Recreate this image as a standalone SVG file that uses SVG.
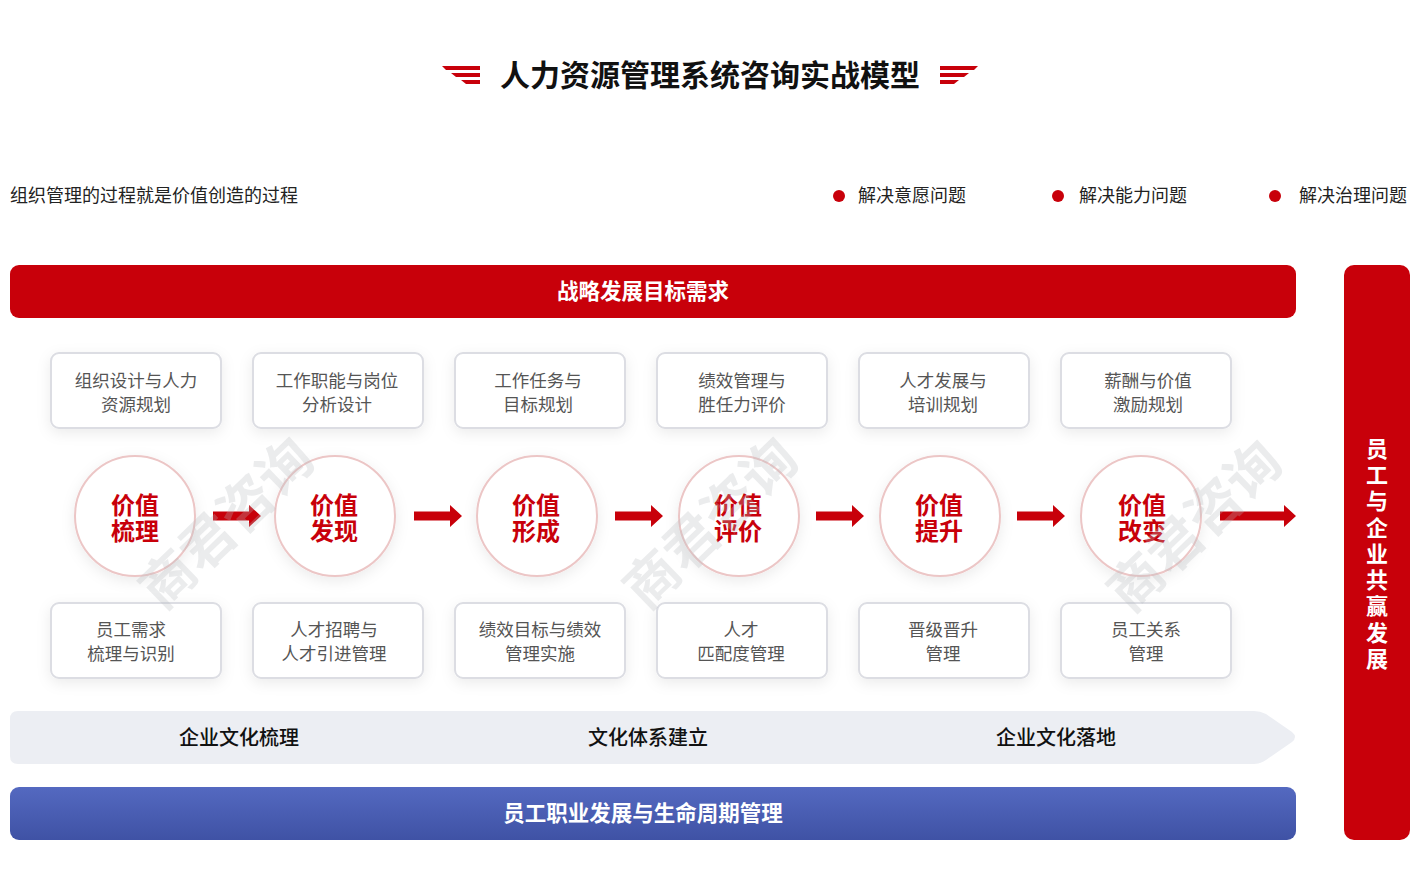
<svg xmlns="http://www.w3.org/2000/svg" width="1420" height="894" viewBox="0 0 1420 894">
<defs>
<style>
text{font-family:"Noto Sans CJK SC","Noto Sans",sans-serif;}
.title{font-size:30px;font-weight:700;fill:#111;}
.sub{font-size:18px;fill:#222;}
.bar{font-size:21.5px;font-weight:700;fill:#fff;}
.box rect{fill:#fff;stroke:#dcdde3;stroke-width:2;}
.box text{font-size:17.5px;fill:#555;text-anchor:middle;}
.circ circle{fill:#fff;stroke:#ecc6c6;stroke-width:2;}
.circ text{font-size:24px;font-weight:700;fill:#c8000a;text-anchor:middle;}
.cult{font-size:20px;font-weight:500;fill:#111;text-anchor:middle;}
.wm{font-size:54px;font-weight:700;fill:#b8b9c0;fill-opacity:0.28;text-anchor:middle;}
.arr{fill:#c8000a;}
</style>
<filter id="sh" x="-30%" y="-30%" width="160%" height="160%">
<feDropShadow dx="0" dy="4" stdDeviation="7" flood-color="#000" flood-opacity="0.08"/>
</filter>
<linearGradient id="blue" x1="0" y1="0" x2="0" y2="1">
<stop offset="0" stop-color="#5469c0"/>
<stop offset="1" stop-color="#3f52a5"/>
</linearGradient>
<path id="arrowR" d="M0,-4.5 H36 V-11 L48,0 L36,11 V4.5 H0 Z"/>
</defs>
<rect width="1420" height="894" fill="#fff"/>

<!-- title -->
<g id="title">
<path d="M442,66 H480 V70 H446 Z M451,73 H480 V77 H456 Z M461,80 H480 V84 H466 Z" fill="#c8000a"/>
<path d="M978,66 H940 V70 H974 Z M969,73 H940 V77 H964 Z M959,80 H940 V84 H954 Z" fill="#c8000a"/>
<text class="title" x="710" y="86" text-anchor="middle">人力资源管理系统咨询实战模型</text>
</g>

<text class="sub" x="10" y="202">组织管理的过程就是价值创造的过程</text>
<g id="legend">
<circle cx="839" cy="196" r="6" fill="#c8000a"/>
<text class="sub" x="858" y="202">解决意愿问题</text>
<circle cx="1058" cy="196" r="6" fill="#c8000a"/>
<text class="sub" x="1079" y="202">解决能力问题</text>
<circle cx="1275" cy="196" r="6" fill="#c8000a"/>
<text class="sub" x="1299" y="202">解决治理问题</text>
</g>

<g id="strategy">
<rect x="10" y="265" width="1286" height="53" rx="9" fill="#c8000a"/>
<text class="bar" x="643" y="299" text-anchor="middle">战略发展目标需求</text>
</g>

<g id="win">
<rect x="1344" y="265" width="66" height="575" rx="10" fill="#c8000a"/>
<text class="bar" text-anchor="middle" style="font-size:22px">
<tspan x="1377" y="457">员</tspan><tspan x="1377" y="483">工</tspan><tspan x="1377" y="509">与</tspan><tspan x="1377" y="536">企</tspan><tspan x="1377" y="562">业</tspan><tspan x="1377" y="588">共</tspan><tspan x="1377" y="614">赢</tspan><tspan x="1377" y="641">发</tspan><tspan x="1377" y="667">展</tspan>
</text>
</g>

<!-- top boxes -->
<g id="top1" class="box"><rect x="51" y="353" width="170" height="75" rx="8" filter="url(#sh)"/><text><tspan x="136" y="387">组织设计与人力</tspan><tspan x="136" y="411">资源规划</tspan></text></g>
<g id="top2" class="box"><rect x="253" y="353" width="170" height="75" rx="8" filter="url(#sh)"/><text><tspan x="337" y="387">工作职能与岗位</tspan><tspan x="337" y="411">分析设计</tspan></text></g>
<g id="top3" class="box"><rect x="455" y="353" width="170" height="75" rx="8" filter="url(#sh)"/><text><tspan x="538" y="387">工作任务与</tspan><tspan x="538" y="411">目标规划</tspan></text></g>
<g id="top4" class="box"><rect x="657" y="353" width="170" height="75" rx="8" filter="url(#sh)"/><text><tspan x="742" y="387">绩效管理与</tspan><tspan x="742" y="411">胜任力评价</tspan></text></g>
<g id="top5" class="box"><rect x="859" y="353" width="170" height="75" rx="8" filter="url(#sh)"/><text><tspan x="943" y="387">人才发展与</tspan><tspan x="943" y="411">培训规划</tspan></text></g>
<g id="top6" class="box"><rect x="1061" y="353" width="170" height="75" rx="8" filter="url(#sh)"/><text><tspan x="1148" y="387">薪酬与价值</tspan><tspan x="1148" y="411">激励规划</tspan></text></g>

<!-- circles -->
<g id="c1" class="circ"><circle cx="135" cy="516" r="60" filter="url(#sh)"/><text><tspan x="135" y="514">价值</tspan><tspan x="135" y="540">梳理</tspan></text></g>
<g id="c2" class="circ"><circle cx="335" cy="516" r="60" filter="url(#sh)"/><text><tspan x="334" y="514">价值</tspan><tspan x="334" y="540">发现</tspan></text></g>
<g id="c3" class="circ"><circle cx="537" cy="516" r="60" filter="url(#sh)"/><text><tspan x="536" y="514">价值</tspan><tspan x="536" y="540">形成</tspan></text></g>
<g id="c4" class="circ"><circle cx="739" cy="516" r="60" filter="url(#sh)"/><text><tspan x="738" y="514">价值</tspan><tspan x="738" y="540">评价</tspan></text></g>
<g id="c5" class="circ"><circle cx="940" cy="516" r="60" filter="url(#sh)"/><text><tspan x="939" y="514">价值</tspan><tspan x="939" y="540">提升</tspan></text></g>
<g id="c6" class="circ"><circle cx="1141" cy="516" r="60" filter="url(#sh)"/><text><tspan x="1142" y="514">价值</tspan><tspan x="1142" y="540">改变</tspan></text></g>

<!-- connectors -->
<g id="connectors" class="arr">
<use href="#arrowR" transform="translate(213,516)"/>
<use href="#arrowR" transform="translate(414,516)"/>
<use href="#arrowR" transform="translate(615,516)"/>
<use href="#arrowR" transform="translate(816,516)"/>
<use href="#arrowR" transform="translate(1017,516)"/>
<path d="M1220,511.5 H1284 V505 L1296,516 L1284,527 V520.5 H1220 Z"/>
</g>

<!-- bottom boxes -->
<g id="bot1" class="box"><rect x="51" y="603" width="170" height="75" rx="8" filter="url(#sh)"/><text><tspan x="131" y="636">员工需求</tspan><tspan x="131" y="660">梳理与识别</tspan></text></g>
<g id="bot2" class="box"><rect x="253" y="603" width="170" height="75" rx="8" filter="url(#sh)"/><text><tspan x="334" y="636">人才招聘与</tspan><tspan x="334" y="660">人才引进管理</tspan></text></g>
<g id="bot3" class="box"><rect x="455" y="603" width="170" height="75" rx="8" filter="url(#sh)"/><text><tspan x="540" y="636">绩效目标与绩效</tspan><tspan x="540" y="660">管理实施</tspan></text></g>
<g id="bot4" class="box"><rect x="657" y="603" width="170" height="75" rx="8" filter="url(#sh)"/><text><tspan x="741" y="636">人才</tspan><tspan x="741" y="660">匹配度管理</tspan></text></g>
<g id="bot5" class="box"><rect x="859" y="603" width="170" height="75" rx="8" filter="url(#sh)"/><text><tspan x="943" y="636">晋级晋升</tspan><tspan x="943" y="660">管理</tspan></text></g>
<g id="bot6" class="box"><rect x="1061" y="603" width="170" height="75" rx="8" filter="url(#sh)"/><text><tspan x="1146" y="636">员工关系</tspan><tspan x="1146" y="660">管理</tspan></text></g>

<!-- culture bar -->
<g id="culture">
<path d="M18,711 H1254 Q1260,711 1266,714 L1292,732 Q1298,737 1292,742 L1266,760 Q1260,764 1254,764 H18 Q10,764 10,756 V719 Q10,711 18,711 Z" fill="#eceef3"/>
<text class="cult" x="239" y="745">企业文化梳理</text>
<text class="cult" x="648" y="745">文化体系建立</text>
<text class="cult" x="1056" y="745">企业文化落地</text>
</g>

<g id="career">
<rect x="10" y="787" width="1286" height="53" rx="9" fill="url(#blue)"/>
<text class="bar" x="643" y="821" text-anchor="middle">员工职业发展与生命周期管理</text>
</g>

<!-- watermarks (overlay) -->
<g id="watermark">
<text class="wm" transform="translate(240,537) rotate(-44)">商君咨询</text>
<text class="wm" transform="translate(724,537) rotate(-44)">商君咨询</text>
<text class="wm" transform="translate(1208,540) rotate(-44)">商君咨询</text>
</g>
</svg>
